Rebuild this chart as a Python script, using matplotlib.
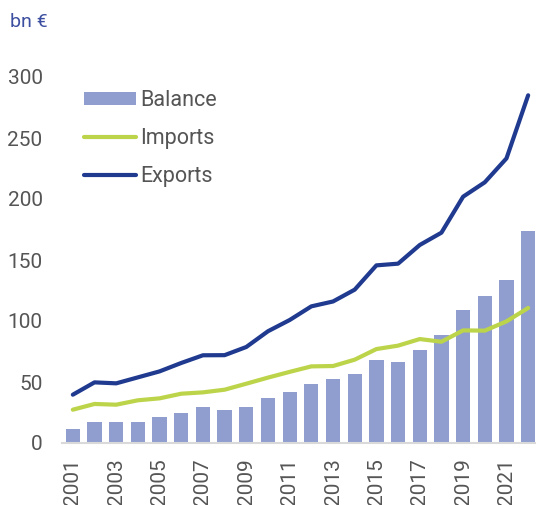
import matplotlib
matplotlib.use("Agg")
import matplotlib.pyplot as plt
from matplotlib.patches import Patch
from matplotlib.lines import Line2D

years = list(range(2001, 2023))
exports = [39.6, 49.7, 48.9, 53.8, 58.7, 65.6, 71.9, 72.0, 78.7, 91.6, 100.8, 112.0,
           116.0, 125.7, 145.6, 147.0, 162.3, 172.4, 201.9, 213.7, 233.3, 285.0]
imports = [27.3, 32.0, 31.4, 35.0, 36.6, 40.4, 41.5, 43.7, 48.6, 53.6, 58.3, 62.8,
           63.1, 68.3, 77.0, 79.8, 85.2, 83.0, 92.3, 92.1, 99.7, 110.7]
balance = [11.7, 17.0, 17.0, 17.4, 21.6, 24.6, 29.8, 27.3, 29.2, 37.2, 41.8, 48.6,
           52.2, 56.8, 68.0, 66.4, 76.2, 88.3, 109.3, 120.8, 133.9, 173.8]
yticks = [0, 50, 100, 150, 200, 250, 300]

bar_c = "#8f9ecf"
imp_c = "#bcd44a"
exp_c = "#1f3a8f"
txt_c = "#555555"

plt.rcParams['font.family'] = ['Roboto', 'DejaVu Sans']

W, H = 536, 505
fig = plt.figure(figsize=(W/100, H/100), dpi=100)
ax = fig.add_axes([62/W, 1-443/H, (539-62)/W, (443-77)/H])

x = list(range(len(years)))
ax.bar(x, balance, width=0.66, color=bar_c, zorder=2)
ax.plot(x, imports, color=imp_c, lw=3, solid_capstyle='round', zorder=3)
ax.plot(x, exports, color=exp_c, lw=3, solid_capstyle='round', zorder=3)

ax.set_xlim(-0.5, len(years)-0.5)
ax.set_ylim(0, 300)
ax.set_yticks(yticks)
ax.set_yticklabels([str(v) for v in yticks])
ax.set_xticks(x[::2])
ax.set_xticklabels([str(y) for y in years[::2]], rotation=90)
ax.tick_params(axis='y', length=0, pad=14, labelsize=15, labelcolor=txt_c)
ax.tick_params(axis='x', length=0, pad=11, labelsize=15, labelcolor=txt_c)
for s in ['top', 'right', 'left']:
    ax.spines[s].set_visible(False)
ax.spines['bottom'].set_color('#d9d9d9')
ax.spines['bottom'].set_linewidth(1.5)
ax.spines['bottom'].set_zorder(4)

fig.text(10/W, 1-22/H, "bn €", color="#3d4fa0", fontsize=14, va='center', ha='left')

handles = [Patch(facecolor=bar_c, edgecolor='none'),
           Line2D([0], [0], color=imp_c, lw=3, solid_capstyle='round'),
           Line2D([0], [0], color=exp_c, lw=3, solid_capstyle='round')]
fig.legend(handles, ["Balance", "Imports", "Exports"], loc='upper left',
           bbox_to_anchor=(84/W, 1-90/H), frameon=False, fontsize=15.5,
           handlelength=2.4, handleheight=0.55, handletextpad=0.2,
           labelspacing=0.78, labelcolor=txt_c, borderpad=0, borderaxespad=0)

fig.savefig("out.png", dpi=100)
